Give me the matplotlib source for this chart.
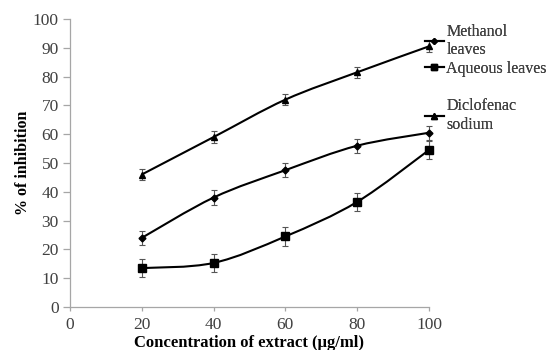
import matplotlib

matplotlib.use("Agg")

import matplotlib.pyplot as plt
import numpy as np
from matplotlib.lines import Line2D
from matplotlib.patches import PathPatch
from matplotlib.path import Path

plt.rcParams["font.family"] = ["Liberation Serif", "DejaVu Serif"]

concentration = [20, 40, 60, 80, 100]
methanol = [24.0, 38.0, 47.5, 56.0, 60.5]
methanol_err = [2.5, 2.5, 2.5, 2.5, 2.5]
aqueous = [13.5, 15.3, 24.5, 36.5, 54.5]
aqueous_err = [3.0, 3.2, 3.2, 3.2, 3.0]
diclofenac = [46.0, 59.0, 72.0, 81.5, 90.5]
diclofenac_err = [2.0, 2.0, 2.0, 2.0, 2.0]

series_labels = ["Methanol\nleaves", "Aqueous leaves", "Diclofenac\nsodium"]
series_markers = ["D", "s", "^"]
marker_sizes = [3.5, 5.5, 4.5]

x_ticks = [0, 20, 40, 60, 80, 100]
y_ticks = [0, 10, 20, 30, 40, 50, 60, 70, 80, 90, 100]

AXIS_GREY = "#a6a6a6"
TEXT_GREY = "#404040"
# top of each legend entry, figure fraction (Excel spreads them unevenly)
LEGEND_TOPS = [0.932, 0.826, 0.719]


def smooth_path(xs, ys, tension=1 / 6):
    # Excel-style smoothed line: Catmull-Rom segments as cubic Beziers
    pts = np.column_stack([xs, ys]).astype(float)
    verts = [pts[0]]
    codes = [Path.MOVETO]
    for i in range(len(pts) - 1):
        p0 = pts[i - 1] if i > 0 else pts[i]
        p1, p2 = pts[i], pts[i + 1]
        p3 = pts[i + 2] if i + 2 < len(pts) else pts[i + 1]
        c1 = p1 + (p2 - p0) * tension
        c2 = p2 - (p3 - p1) * tension
        verts += [c1, c2, p2]
        codes += [Path.CURVE4] * 3
    return Path(verts, codes)


fig = plt.figure(figsize=(5.51, 3.5), dpi=100)
ax = fig.add_axes([0.127, 0.1229, 0.6515, 0.8228])

series = [
    (methanol, methanol_err),
    (aqueous, aqueous_err),
    (diclofenac, diclofenac_err),
]
handles = []
for (vals, errs), marker, ms, label in zip(series, series_markers, marker_sizes, series_labels):
    ax.add_patch(PathPatch(smooth_path(concentration, vals), fill=False, edgecolor="black", lw=1.5, zorder=2))
    ax.errorbar(concentration, vals, yerr=errs, fmt="none", ecolor="#555555", elinewidth=0.8,
                capsize=2.5, capthick=0.8, zorder=3, clip_on=False)
    ax.plot(concentration, vals, linestyle="none", marker=marker, ms=ms, color="black", zorder=4,
            clip_on=False)
    handles.append(Line2D([], [], color="black", lw=1.5, marker=marker, ms=ms - 0.5, label=label))

ax.set_xlim(0, 100)
ax.set_ylim(0, 100)
ax.set_xticks(x_ticks)
ax.set_yticks(y_ticks)
for side in ("top", "right"):
    ax.spines[side].set_visible(False)
for side in ("left", "bottom"):
    ax.spines[side].set_color(AXIS_GREY)
    ax.spines[side].set_linewidth(0.9)
ax.tick_params(axis="both", colors=AXIS_GREY, labelcolor=TEXT_GREY, labelsize=12.5, width=0.9)
ax.tick_params(axis="x", length=3, pad=4)
ax.tick_params(axis="y", length=5, pad=3)

ax.set_xlabel("Concentration of extract (\u00b5g/ml)", fontsize=12, fontweight="bold", color="black",
              va="center")
ax.xaxis.set_label_coords(0.5, -0.125)
ax.set_ylabel("% of inhibition", fontsize=11.5, fontweight="bold", color="black", labelpad=1)

for handle, top in zip(handles, LEGEND_TOPS):
    leg = fig.legend(handles=[handle], loc="upper left", bbox_to_anchor=(0.771, top), frameon=False,
                     fontsize=11.5, handlelength=1.2, handletextpad=0.15, borderaxespad=0,
                     borderpad=0, labelcolor=TEXT_GREY)
    fig.add_artist(leg)

fig.savefig("out.png", dpi=100)
